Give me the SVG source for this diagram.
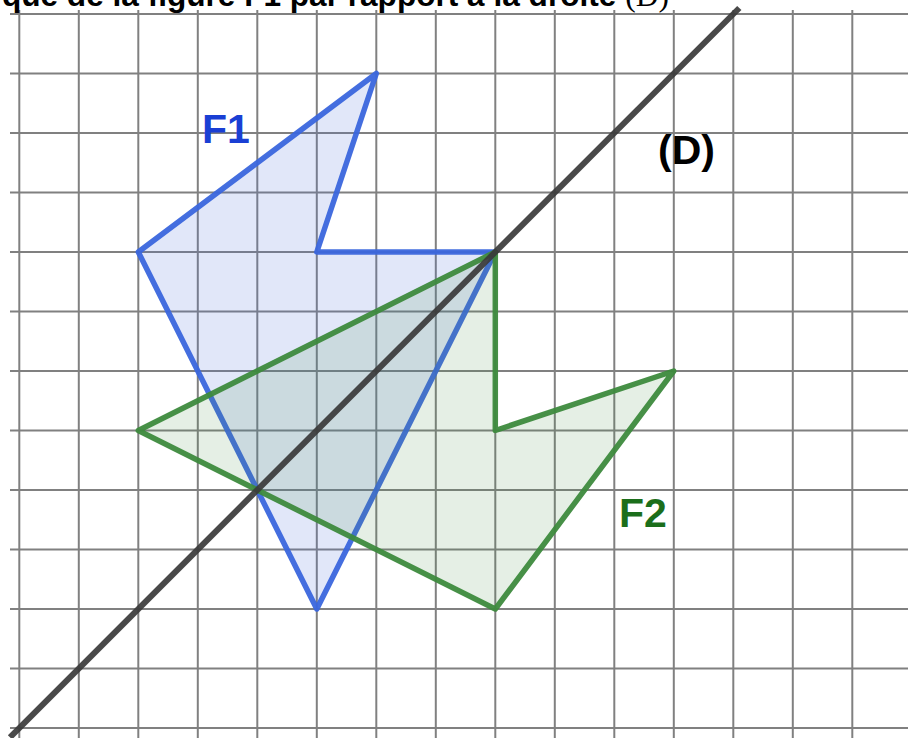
<svg xmlns="http://www.w3.org/2000/svg" width="908" height="738" viewBox="0 0 908 738">
<style>
.grid line{stroke:#808080;stroke-width:2}
.title{font-family:"Liberation Sans",Arial,sans-serif;font-weight:bold;font-size:31.6px;fill:#000}
.serif{font-family:"Liberation Serif","Times New Roman",serif;font-weight:normal}
.lbl{font-family:"Liberation Sans",Arial,sans-serif;font-weight:bold;font-size:41px}
.f1{fill:rgba(80,115,220,0.17);stroke:#3a66dd;stroke-width:5.5;stroke-linejoin:round;stroke-opacity:0.95}
.f2{fill:rgba(70,140,70,0.14);stroke:#3d8a3d;stroke-width:5.5;stroke-linejoin:round;stroke-opacity:0.95}
</style>
<rect width="908" height="738" fill="#fff"/>
<g class="grid">
<line x1="10" y1="14" x2="908" y2="14"/>
<line x1="10" y1="73.5" x2="908" y2="73.5"/>
<line x1="10" y1="133" x2="908" y2="133"/>
<line x1="10" y1="192.5" x2="908" y2="192.5"/>
<line x1="10" y1="252" x2="908" y2="252"/>
<line x1="10" y1="311.5" x2="908" y2="311.5"/>
<line x1="10" y1="371" x2="908" y2="371"/>
<line x1="10" y1="430.5" x2="908" y2="430.5"/>
<line x1="10" y1="490" x2="908" y2="490"/>
<line x1="10" y1="549.5" x2="908" y2="549.5"/>
<line x1="10" y1="609" x2="908" y2="609"/>
<line x1="10" y1="668.5" x2="908" y2="668.5"/>
<line x1="10" y1="728" x2="908" y2="728"/>
<line x1="19.3" y1="10" x2="19.3" y2="738"/>
<line x1="78.8" y1="10" x2="78.8" y2="738"/>
<line x1="138.3" y1="10" x2="138.3" y2="738"/>
<line x1="197.8" y1="10" x2="197.8" y2="738"/>
<line x1="257.3" y1="10" x2="257.3" y2="738"/>
<line x1="316.8" y1="10" x2="316.8" y2="738"/>
<line x1="376.3" y1="10" x2="376.3" y2="738"/>
<line x1="435.8" y1="10" x2="435.8" y2="738"/>
<line x1="495.3" y1="10" x2="495.3" y2="738"/>
<line x1="554.8" y1="10" x2="554.8" y2="738"/>
<line x1="614.3" y1="10" x2="614.3" y2="738"/>
<line x1="673.8" y1="10" x2="673.8" y2="738"/>
<line x1="733.3" y1="10" x2="733.3" y2="738"/>
<line x1="792.8" y1="10" x2="792.8" y2="738"/>
<line x1="852.3" y1="10" x2="852.3" y2="738"/>
</g>
<text class="title" x="669" y="6" text-anchor="end">que de la figure F1 par rapport à la droite <tspan class="serif">(D)</tspan></text>
<g id="F1">
<polygon class="f1" points="376.3,73.5 316.8,252 495.3,252 316.8,609 138.3,252"/>
<text class="lbl" x="202" y="143" fill="#1a3fd4">F1</text>
</g>
<g id="F2">
<polygon class="f2" points="495.3,252 495.3,430.5 673.8,371 495.3,609 138.3,430.5"/>
<text class="lbl" x="619" y="527" fill="#1b6e1b">F2</text>
</g>
<g id="D">
<line x1="10" y1="737.3" x2="739.3" y2="8" stroke="#3a3a3a" stroke-width="6" stroke-opacity="0.92"/>
<text class="lbl" x="658" y="164" fill="#000" font-size="39">(D)</text>
</g>
</svg>
